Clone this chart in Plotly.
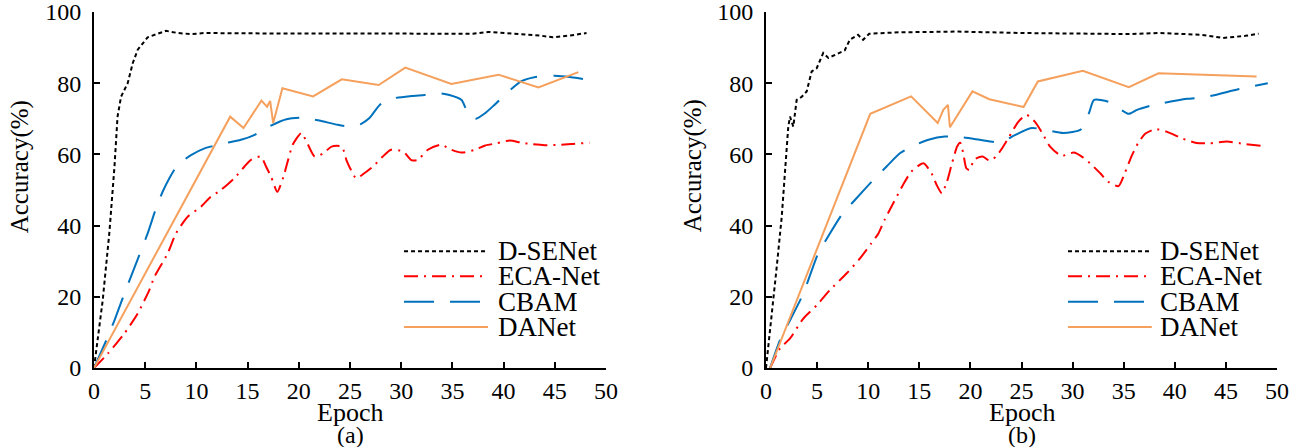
import plotly.graph_objects as go

# ---------------- data: panel (a) ----------------
dse_a_x = [0, 0.85, 1.5, 2.0, 2.3, 2.64, 3.29, 3.78, 4.27, 5.24, 7.03, 8.17, 9.5, 10.8, 15, 20, 25, 30, 35, 37, 38.5, 40, 42, 43.5, 44.8, 46.5, 48.1]
dse_a_y = [0, 19, 38, 56.6, 70.6, 76.2, 80, 85.6, 89.4, 92.9, 94.7, 94.1, 93.8, 94.1, 94, 94, 93.9, 93.9, 93.9, 93.9, 94.4, 94.1, 93.8, 93.4, 92.9, 93.4, 94.1]

eca_a_x = [0, 1.34, 2.97, 4.27, 5.4, 5.9, 7.2, 8.0, 9.15, 10.45, 11.4, 12.4, 13.7, 14.7, 15.3, 16.3, 16.8, 17.3, 17.9, 18.5, 18.95, 19.4, 20.25, 20.9, 21.55, 22.4, 23.2, 24.2, 24.65, 25.1, 25.6, 26.4, 27.25, 28.2, 29.0, 30.2, 31.0, 31.6, 32.6, 33.9, 34.9, 35.9, 37.2, 38.2, 39.3, 40.6, 41.7, 42.7, 44.0, 45.3, 46.6, 48.4]
eca_a_y = [0, 4, 9.7, 15.3, 21.9, 25.6, 32.2, 37.8, 42.5, 45.3, 48.1, 50, 53.3, 56.6, 58.4, 59.4, 56.6, 53.7, 49.5, 53.7, 58.4, 62.7, 66, 62.7, 59.4, 60.3, 62.2, 62.2, 58.4, 55.6, 53.3, 54.7, 56.6, 59.4, 61.3, 60.8, 58.4, 58.4, 61.3, 62.7, 61.3, 60.5, 61.3, 62.5, 63.1, 63.9, 63.3, 62.9, 62.6, 62.7, 62.9, 63.3]

cbam_a_x = [0, 1.34, 2.0, 2.97, 3.6, 5.24, 6.05, 6.7, 7.36, 8.17, 9.47, 10.8, 12.4, 14.35, 15.7, 17.2, 18.8, 20.25, 22.0, 23.8, 25.1, 26.1, 26.9, 27.9, 29.0, 31.0, 32.3, 33.6, 34.7, 35.9, 36.5, 37.2, 38.2, 39.1, 40.3, 41.7, 43.0, 45.0, 46.6, 48.2]
cbam_a_y = [0, 8.7, 13.4, 20.9, 25.6, 37.8, 44.8, 49.5, 53.3, 57, 59.8, 61.7, 62.9, 64.1, 65.5, 68, 69.9, 70.3, 69.5, 68.3, 67.8, 68.6, 70.2, 73.9, 75.6, 76.4, 76.7, 77.2, 76.7, 75.3, 71.6, 69.9, 71.6, 73.9, 77.2, 80.5, 81.7, 82.1, 81.7, 81.0]

dan_a_x = [0, 13.3, 14.6, 16.35, 16.9, 17.2, 17.5, 18.4, 21.4, 24.2, 27.8, 30.4, 34.9, 39.5, 43.4, 47.3]
dan_a_y = [0, 70.6, 67.4, 75.1, 73.4, 75, 68.8, 78.6, 76.3, 81.1, 79.5, 84.4, 79.8, 82.4, 78.8, 83.1]

# ---------------- data: panel (b) ----------------
dse_b_x = [0, 0.56, 1.05, 1.54, 1.86, 2.18, 2.35, 2.67, 3.0, 3.5, 3.98, 4.47, 4.96, 5.6, 6.1, 7.08, 7.7, 8.2, 9.0, 9.5, 10.1, 13.1, 16.4, 18.8, 25, 32.2, 35.5, 38.4, 42.6, 44.7, 46.9, 48.2]
dse_b_y = [0, 14.4, 28.4, 42.5, 56.6, 67.8, 70.6, 67.8, 75.3, 76.2, 77.7, 83.3, 84.2, 88.5, 87.1, 88.3, 89.2, 92.2, 93.6, 92.2, 93.9, 94.3, 94.5, 94.5, 94.1, 93.8, 93.8, 94.1, 93.6, 92.7, 93.3, 93.9]

eca_b_x = [0.4, 1.37, 2.35, 3.65, 4.96, 6.26, 7.9, 9.2, 10.3, 11.0, 11.6, 12.45, 13.4, 14.2, 15.4, 16.2, 16.7, 17.2, 17.7, 18.2, 18.7, 19.0, 19.3, 19.6, 19.9, 20.4, 21.2, 21.9, 22.5, 23.0, 23.7, 24.7, 25.5, 26.3, 26.95, 27.8, 28.9, 30.1, 30.9, 31.9, 32.7, 33.5, 34.5, 35.1, 35.75, 36.4, 37.1, 38.1, 39.2, 40.7, 42.0, 43.4, 45.1, 46.9, 48.4]
eca_b_y = [0, 5.5, 8.3, 13.9, 17.6, 21.9, 26.6, 30.8, 35, 37.8, 41.6, 46.3, 51.4, 55.1, 57.5, 54.7, 51.4, 49.1, 52.3, 57.5, 62.2, 63.3, 60.3, 56.1, 55.6, 58.6, 59.4, 58.2, 59.4, 61.3, 64.5, 69.2, 71.1, 69.2, 66.4, 62.2, 59.6, 60.5, 59.4, 57, 54.7, 52.3, 51.1, 54.7, 59.4, 63.1, 65.8, 67.1, 66.4, 64.5, 63.3, 63.1, 63.6, 62.9, 62.4]

cbam_b_x = [0.4, 1.37, 2.35, 3.65, 5.1, 5.96, 7.4, 8.7, 10.65, 11.8, 13.1, 14.25, 15.9, 17.5, 19.1, 20.9, 22.4, 23.4, 24.2, 26.0, 27.3, 29.1, 30.8, 31.6, 32.1, 33.5, 35.5, 36.3, 37.9, 41.2, 43.0, 46.2, 49.1]
cbam_b_y = [0, 7.8, 13.4, 20.9, 32.2, 36.4, 43, 47.2, 53.3, 56.6, 60.3, 62.2, 64.1, 65, 64.8, 64.1, 63.5, 63.9, 65.2, 67.4, 66.9, 66, 67.0, 71.6, 75.3, 74.8, 71.4, 72.5, 73.9, 75.6, 76.1, 78.3, 80]

dan_b_x = [0.4, 10.2, 14.2, 16.8, 17.35, 17.8, 18.0, 20.2, 21.85, 25.2, 26.6, 31.0, 35.5, 38.4, 48.0]
dan_b_y = [0, 71.4, 76.3, 68.8, 72.5, 73.9, 67.6, 77.7, 75.5, 73.3, 80.5, 83.5, 78.9, 82.8, 81.9]

names = ["D-SENet", "ECA-Net", "CBAM", "DANet"]
colors = ["#000000", "#FF0000", "#0072BD", "#F5A05C"]
dashes = ["4px,3px", "14px,6px,2px,6px", "30px,16px", "solid"]
shapes_ = ["linear", "spline", "spline", "linear"]
x_ticks = [0, 5, 10, 15, 20, 25, 30, 35, 40, 45, 50]
y_ticks = [0, 20, 40, 60, 80, 100]
panel_labels = ["(a)", "(b)"]

FONT = "Liberation Serif, Times New Roman, serif"

fig = go.Figure()
panels = [
    ([dse_a_x, eca_a_x, cbam_a_x, dan_a_x], [dse_a_y, eca_a_y, cbam_a_y, dan_a_y], "x", "y"),
    ([dse_b_x, eca_b_x, cbam_b_x, dan_b_x], [dse_b_y, eca_b_y, cbam_b_y, dan_b_y], "x2", "y2"),
]
for xs, ys, xa, ya in panels:
    for i in range(4):
        fig.add_trace(go.Scatter(
            x=xs[i], y=ys[i], mode="lines", name=names[i], showlegend=False,
            xaxis=xa, yaxis=ya,
            line=dict(color=colors[i], width=2, dash=dashes[i], shape=shapes_[i], smoothing=0.6),
            cliponaxis=True,
        ))

axis_common = dict(
    showline=True, linecolor="black", linewidth=2, mirror=False,
    ticks="inside", ticklen=6, tickwidth=2, tickcolor="black",
    showgrid=False, zeroline=False, automargin=False, ticklabeloverflow="allow",
    tickfont=dict(family=FONT, size=24, color="black"),
)
W, H = 1301, 447
ml, mr, mt, mb = 94, 24, 12, 79
pw = W - ml - mr
d1 = [0, (606 - ml) / pw]
d2 = [(766 - ml) / pw, 1]

fig.update_layout(
    width=W, height=H,
    margin=dict(l=ml, r=mr, t=mt, b=mb, autoexpand=False),
    paper_bgcolor="white", plot_bgcolor="white",
    xaxis=dict(domain=d1, range=[0, 50], tickvals=x_ticks, anchor="y", ticklabelstandoff=0, **axis_common),
    yaxis=dict(domain=[0, 1], range=[0, 100], tickvals=y_ticks, anchor="x", ticklabelstandoff=6, **axis_common),
    xaxis2=dict(domain=d2, range=[0, 50], tickvals=x_ticks, anchor="y2", ticklabelstandoff=0, **axis_common),
    yaxis2=dict(domain=[0, 1], range=[0, 100], tickvals=y_ticks, anchor="x2", ticklabelstandoff=6, **axis_common),
    showlegend=False,
)

annotations = []
shapes = []
ph = H - mt - mb
for k, (xa, ya) in enumerate([("x", "y"), ("x2", "y2")]):
    dom = d1 if k == 0 else d2
    xc = (dom[0] + dom[1]) / 2
    annotations.append(dict(text="Epoch", xref="paper", yref="paper", x=xc, y=(367.7 - 412) / ph,
                            showarrow=False, xanchor="center", yanchor="middle",
                            font=dict(family=FONT, size=26, color="black")))
    annotations.append(dict(text=panel_labels[k], xref="paper", yref="paper", x=xc, y=(367.7 - 435) / ph,
                            showarrow=False, xanchor="center", yanchor="middle",
                            font=dict(family=FONT, size=24, color="black")))
    ypx = 20 if k == 0 else 693
    annotations.append(dict(text="Accuracy(%)", xref="paper", yref="paper", x=(ypx - ml) / pw, y=(367.7 - 166) / ph,
                            showarrow=False, xanchor="center", yanchor="middle", textangle=-90,
                            font=dict(family=FONT, size=25, color="black")))
    lx0, lx1, tx = (0.6055, 0.7695, 0.785) if k == 0 else (0.591, 0.755, 0.768)
    rows = [0.328, 0.258, 0.186, 0.115]
    for i in range(4):
        shapes.append(dict(type="line", xref=f"{xa} domain", yref=f"{ya} domain",
                           x0=lx0, x1=lx1, y0=rows[i], y1=rows[i],
                           line=dict(color=colors[i], width=2, dash=dashes[i])))
        annotations.append(dict(text=names[i], xref=f"{xa} domain", yref=f"{ya} domain",
                                x=tx, y=rows[i], showarrow=False, xanchor="left", yanchor="middle",
                                font=dict(family=FONT, size=27, color="black")))

fig.update_layout(annotations=annotations, shapes=shapes)
fig.write_html("out.html", config={"displayModeBar": False},
               post_script="document.body.style.margin='0px';document.body.style.padding='0px';")
